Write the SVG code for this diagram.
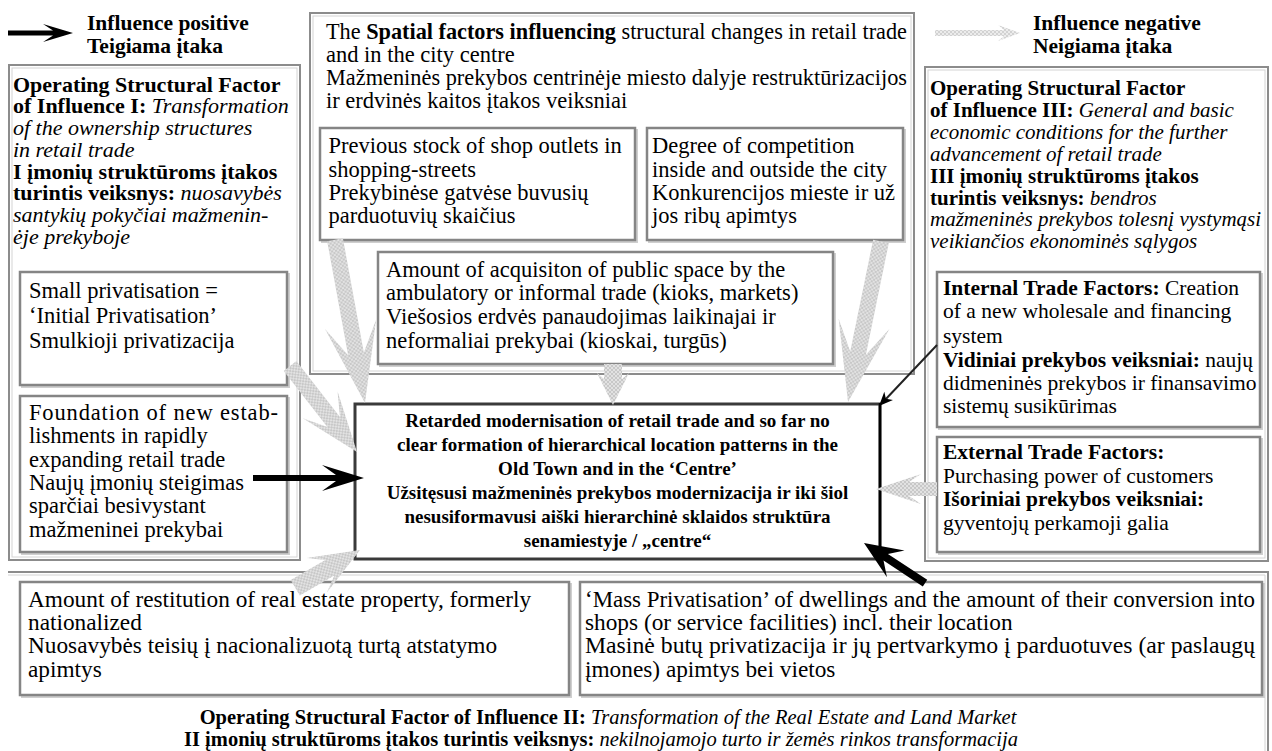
<svg xmlns="http://www.w3.org/2000/svg" width="1272" height="751" viewBox="0 0 1272 751">
<style>
.t{font-family:"Liberation Serif","Times New Roman",serif;font-size:22.5px;fill:#000}
.f{font-size:22px}
.f3{font-size:21px}
.s{font-size:21.5px}
.lb{font-size:23.3px}
.b{font-weight:bold}
.i{font-style:italic}
.c{font-size:19px;font-weight:bold;text-anchor:middle}
.lg{font-size:21.5px;font-weight:bold}
.bt{font-size:20.5px;text-anchor:middle}
.outer{fill:#fff;stroke:#8c8c8c;stroke-width:2}
.bev{fill:none;stroke:#d4d4d4;stroke-width:1}
.inner{fill:#fff;stroke:#858585;stroke-width:2.5}
.sh{fill:none;stroke:#cfcfcf;stroke-width:2}
.garr{fill:url(#dots)}
.garrl{fill:url(#dotsl)}
.barr{fill:#000}
</style>
<defs>
<pattern id="dots" width="4" height="4" patternUnits="userSpaceOnUse">
<rect width="4" height="4" fill="#e2e2e2"/><rect width="2" height="2" fill="#c8c8c8"/><rect x="2" y="2" width="2" height="2" fill="#c8c8c8"/>
</pattern>
<pattern id="dotsl" width="4" height="4" patternUnits="userSpaceOnUse">
<rect width="4" height="4" fill="#ececec"/><rect width="2" height="2" fill="#d2d2d2"/><rect x="2" y="2" width="2" height="2" fill="#d2d2d2"/>
</pattern>
</defs>
<rect width="1272" height="751" fill="#fff"/>

<g id="legend-positive">
<path class="barr" transform="translate(73,33)" d="M0,0 L-30,-9 L-20,-2.5 L-65,-2.5 L-65,2.5 L-20,2.5 L-30,9 Z"/>
<text class="t lg" x="87" y="30">Influence positive</text>
<text class="t lg" x="87" y="53">Teigiama įtaka</text>
</g>
<g id="legend-negative">
<path class="garrl" transform="translate(1020,33)" d="M0,0 L-22,-8 L-16,-3 L-85,-3 L-85,3 L-16,3 L-22,8 Z"/>
<text class="t lg" x="1033" y="30">Influence negative</text>
<text class="t lg" x="1033" y="53">Neigiama įtaka</text>
</g>

<g id="factor2-frame">
<path d="M8,572 H1268 V751" fill="none" stroke="#8c8c8c" stroke-width="2"/>
<path d="M8,575 H1265 V751" fill="none" stroke="#d4d4d4" stroke-width="1"/>
</g>

<g id="factor1">
<rect class="outer" x="9" y="65" width="291" height="495"/>
<rect class="bev" x="12" y="68" width="285" height="489"/>
<text class="t f b" x="13" y="91.7">Operating Structural Factor</text>
<text class="t f" x="13" y="113.4"><tspan class="b">of Influence I:</tspan><tspan class="i"> Transformation</tspan></text>
<text class="t f i" x="13" y="135.1">of the ownership structures</text>
<text class="t f i" x="13" y="156.8">in retail trade</text>
<text class="t f b" x="13" y="178.5">I įmonių struktūroms įtakos</text>
<text class="t f" x="13" y="200.2"><tspan class="b">turintis veiksnys:</tspan><tspan class="i"> nuosavybės</tspan></text>
<text class="t f i" x="13" y="221.9">santykių pokyčiai mažmenin-</text>
<text class="t f i" x="13" y="243.6">ėje prekyboje</text>
</g>

<g id="small-privatisation">
<rect class="sh" x="22" y="274" width="267" height="113"/>
<rect class="inner" x="20" y="272" width="267" height="113"/>
<text class="t" x="29" y="298.3">Small privatisation =</text>
<text class="t" x="29" y="323.3">‘Initial Privatisation’</text>
<text class="t" x="29" y="348.3">Smulkioji privatizacija</text>
</g>

<g id="foundation">
<rect class="sh" x="22" y="398" width="267" height="156"/>
<rect class="inner" x="20" y="396" width="267" height="156"/>
<text class="t" x="29" y="420" textLength="249" lengthAdjust="spacing">Foundation of new estab-</text>
<text class="t" x="29" y="443.3">lishments in rapidly</text>
<text class="t" x="29" y="466.7">expanding retail trade</text>
<text class="t" x="29" y="490">Naujų įmonių steigimas</text>
<text class="t" x="29" y="513.3">sparčiai besivystant</text>
<text class="t" x="29" y="536.7">mažmeninei prekybai</text>
</g>

<g id="spatial-factors">
<rect class="outer" x="310" y="13" width="604" height="361"/>
<rect class="bev" x="313" y="16" width="598" height="355"/>
<text class="t" x="326" y="38.5" textLength="581" lengthAdjust="spacingAndGlyphs">The <tspan class="b">Spatial factors influencing</tspan> structural changes in retail trade</text>
<text class="t" x="326" y="61.8">and in the city centre</text>
<text class="t" x="326" y="85.1" textLength="581" lengthAdjust="spacingAndGlyphs">Mažmeninės prekybos centrinėje miesto dalyje restruktūrizacijos</text>
<text class="t" x="326" y="108.4">ir erdvinės kaitos įtakos veiksniai</text>
</g>

<g id="previous-stock">
<rect class="sh" x="322" y="130" width="315" height="112"/>
<rect class="inner" x="320" y="128" width="315" height="112"/>
<text class="t" x="328.6" y="153.3">Previous stock of shop outlets in</text>
<text class="t" x="328.6" y="176.6">shopping-streets</text>
<text class="t" x="328.6" y="200">Prekybinėse gatvėse buvusių</text>
<text class="t" x="328.6" y="223.3">parduotuvių skaičius</text>
</g>

<g id="competition">
<rect class="sh" x="649" y="130" width="256" height="112"/>
<rect class="inner" x="647" y="128" width="256" height="112"/>
<text class="t" x="652" y="153.3">Degree of competition</text>
<text class="t" x="652" y="176.6">inside and outside the city</text>
<text class="t" x="652" y="200">Konkurencijos mieste ir už</text>
<text class="t" x="652" y="223.3">jos ribų apimtys</text>
</g>

<g id="public-space">
<rect class="sh" x="380" y="254" width="455" height="112"/>
<rect class="inner" x="378" y="252" width="455" height="112"/>
<text class="t" x="386" y="276.5">Amount of acquisiton of public space by the</text>
<text class="t" x="386" y="300">ambulatory or informal trade (kioks, markets)</text>
<text class="t" x="386" y="324">Viešosios erdvės panaudojimas laikinajai ir</text>
<text class="t" x="386" y="347.5">neformaliai prekybai (kioskai, turgūs)</text>
</g>

<g id="factor3">
<rect class="outer" x="925" y="67" width="343" height="494"/>
<rect class="bev" x="928" y="70" width="337" height="488"/>
<text class="t f3 b" x="930" y="95">Operating Structural Factor</text>
<text class="t f3" x="930" y="116.9"><tspan class="b">of Influence III:</tspan><tspan class="i"> General and basic</tspan></text>
<text class="t f3 i" x="930" y="138.8">economic conditions for the further</text>
<text class="t f3 i" x="930" y="160.7">advancement of retail trade</text>
<text class="t f3 b" x="930" y="182.6">III įmonių struktūroms įtakos</text>
<text class="t f3" x="930" y="204.5"><tspan class="b">turintis veiksnys:</tspan><tspan class="i"> bendros</tspan></text>
<text class="t f3 i" x="930" y="226.4">mažmeninės prekybos tolesnį vystymąsi</text>
<text class="t f3 i" x="930" y="248.3">veikiančios ekonominės sąlygos</text>
</g>

<g id="internal-trade">
<rect class="sh" x="939" y="274" width="323" height="155"/>
<rect class="inner" x="937" y="272" width="323" height="155"/>
<text class="t s" x="943" y="295"><tspan class="b">Internal Trade Factors:</tspan> Creation</text>
<text class="t s" x="943" y="318.3">of a new wholesale and financing</text>
<text class="t s" x="943" y="343.3">system</text>
<text class="t s" x="943" y="366.7"><tspan class="b">Vidiniai prekybos veiksniai:</tspan> naujų</text>
<text class="t s" x="943" y="390">didmeninės prekybos ir finansavimo</text>
<text class="t s" x="943" y="413.3">sistemų susikūrimas</text>
</g>

<g id="external-trade">
<rect class="sh" x="939" y="439" width="323" height="115"/>
<rect class="inner" x="937" y="437" width="323" height="115"/>
<text class="t s b" x="943" y="459">External Trade Factors:</text>
<text class="t s" x="943" y="482.5">Purchasing power of customers</text>
<text class="t s b" x="943" y="506">Išoriniai prekybos veiksniai:</text>
<text class="t s" x="943" y="529.5">gyventojų perkamoji galia</text>
</g>

<g id="restitution">
<rect class="sh" x="22" y="584" width="549" height="113"/>
<rect class="inner" x="20" y="582" width="549" height="113"/>
<text class="t lb" x="28" y="606.5">Amount of restitution of real estate property, formerly</text>
<text class="t lb" x="28" y="630">nationalized</text>
<text class="t lb" x="28" y="653.3">Nuosavybės teisių į nacionalizuotą turtą atstatymo</text>
<text class="t lb" x="28" y="676.7">apimtys</text>
</g>

<g id="mass-privatisation">
<rect class="sh" x="582" y="584" width="682" height="113"/>
<rect class="inner" x="580" y="582" width="682" height="113"/>
<text class="t lb" x="585" y="606.5" textLength="670" lengthAdjust="spacingAndGlyphs">‘Mass Privatisation’ of dwellings and the amount of their conversion into</text>
<text class="t lb" x="585" y="630">shops (or service facilities) incl. their location</text>
<text class="t lb" x="585" y="653.3" textLength="670" lengthAdjust="spacingAndGlyphs">Masinė butų privatizacija ir jų pertvarkymo į parduotuves (ar paslaugų</text>
<text class="t lb" x="585" y="676.7">įmones) apimtys bei vietos</text>
</g>

<g id="factor2-label">
<text class="t bt" x="608" y="724"><tspan class="b">Operating Structural Factor of Influence II:</tspan><tspan class="i"> Transformation of the Real Estate and Land Market</tspan></text>
<text class="t bt" x="601" y="746"><tspan class="b">II įmonių struktūroms įtakos turintis veiksnys:</tspan><tspan class="i"> nekilnojamojo turto ir žemės rinkos transformacija</tspan></text>
</g>

<g id="result">
<rect x="355" y="404" width="525" height="155" fill="#fff" stroke="#3a3a3a" stroke-width="3"/>
<line x1="880" y1="403" x2="880" y2="560" stroke="#000" stroke-width="2.5"/>
<text class="t c" x="617.5" y="426.5">Retarded modernisation of retail trade and so far no</text>
<text class="t c" x="617.5" y="450.5">clear formation of hierarchical location patterns in the</text>
<text class="t c" x="617.5" y="474.5">Old Town and in the ‘Centre’</text>
<text class="t c" x="617.5" y="498.5">Užsitęsusi mažmeninės prekybos modernizacija ir iki šiol</text>
<text class="t c" x="617.5" y="522.5">nesusiformavusi aiški hierarchinė sklaidos struktūra</text>
<text class="t c" x="617.5" y="546.5">senamiestyje / „centre“</text>
</g>

<g id="connectors">
<path class="garr" transform="translate(365,403) rotate(79.6)" d="M0,0 L-80,-26 L-50,-8 L-166,-8 L-166,8 L-50,8 L-80,26 Z"/>
<path class="garr" transform="translate(357,452) rotate(52.1)" d="M0,0 L-60,-22 L-38,-8 L-109,-8 L-109,8 L-38,8 L-60,22 Z"/>
<path class="garr" transform="translate(848,402) rotate(101.6)" d="M0,0 L-80,-26 L-50,-8 L-164,-8 L-164,8 L-50,8 L-80,26 Z"/>
<path class="garr" transform="translate(613,405) rotate(90)" d="M0,0 L-32,-16 L-26,-9 L-41,-9 L-41,9 L-26,9 L-32,16 Z"/>
<path class="garr" transform="translate(876,489) rotate(180)" d="M0,0 L-45,-15 L-33,-7 L-61,-7 L-61,7 L-33,7 L-45,15 Z"/>
<path class="garr" transform="translate(360,550) rotate(-30.3)" d="M0,0 L-50,-20 L-35,-9 L-75,-9 L-75,9 L-35,9 L-50,20 Z"/>
<path class="barr" transform="translate(364,478)" d="M0,0 L-42,-13 L-28,-3 L-111,-3 L-111,3 L-28,3 L-42,13 Z"/>
<line x1="937" y1="345" x2="884" y2="401" stroke="#222" stroke-width="2"/>
<path class="barr" transform="translate(879,406) rotate(133.6)" d="M0,0 L-14,-6 L-10,0 L-14,6 Z"/>
<path class="barr" transform="translate(864,543) rotate(213.3)" d="M0,0 L-38,-16 L-26,-4 L-73,-4 L-73,4 L-26,4 L-38,16 Z"/>
</g>
</svg>
